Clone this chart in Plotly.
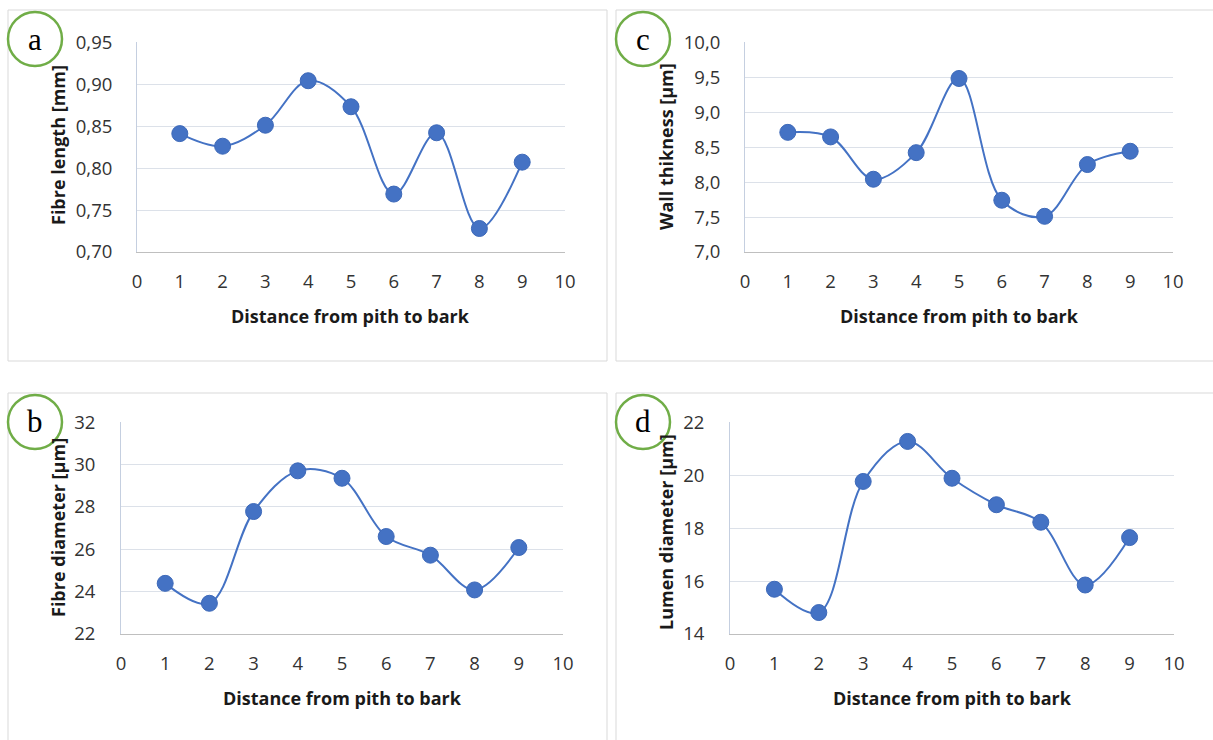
import plotly.graph_objects as go

W, H = 1213, 740

distance = [1, 2, 3, 4, 5, 6, 7, 8, 9]
fibre_length = [0.841, 0.826, 0.851, 0.904, 0.873, 0.769, 0.842, 0.728, 0.807]
wall_thickness = [8.71, 8.645, 8.04, 8.42, 9.48, 7.74, 7.51, 8.25, 8.44]
fibre_diameter = [24.39, 23.45, 27.78, 29.70, 29.35, 26.60, 25.72, 24.08, 26.08]
lumen_diameter = [15.69, 14.81, 19.76, 21.27, 19.88, 18.88, 18.22, 15.85, 17.64]

panel_letters = ["a", "c", "b", "d"]
y_titles = ["Fibre length [mm]", "Wall thikness [µm]", "Fibre diameter [µm]", "Lumen diameter [µm]"]
x_title = "Distance from pith to bark"

series = [fibre_length, wall_thickness, fibre_diameter, lumen_diameter]
y_ranges = [(0.70, 0.95), (7.0, 10.0), (22, 32), (14, 22)]
y_dticks = [0.05, 0.5, 2, 2]
y_formats = [".2f", ".1f", "d", "d"]

plot_px = [(137, 565, 42, 252), (745, 1173, 42, 252), (121, 563, 422, 634), (730, 1174, 422, 634)]
frame_px = [(8, 10, 607, 361), (616, 10, 1214, 361), (8, 393, 607, 742), (616, 393, 1214, 742)]
circle_c = [(35, 39), (643, 39), (35, 422), (643, 422)]
ytitle_pos = [(58, 145), (666, 147), (58, 528), (666, 532)]
xtitle_y = [316, 316, 698, 698]
ylab_standoff = [20, 20, 21, 21]

BLUE = "#4472C4"
fig = go.Figure()

def px_x(p):
    return p / W

def px_y(p):
    return 1 - p / H

shapes = []
annotations = []
for i in range(4):
    ax = "" if i == 0 else str(i + 1)
    x0, x1, yt, yb = plot_px[i]
    fig.add_trace(go.Scatter(
        x=distance, y=series[i], mode="lines+markers",
        line=dict(color=BLUE, width=2, shape="spline", smoothing=1.0),
        marker=dict(size=16, color=BLUE, line=dict(color="#3d69b9", width=1)),
        xaxis="x" + ax, yaxis="y" + ax, showlegend=False,
    ))
    lo, hi = y_ranges[i]
    fig.layout["xaxis" + ax] = dict(
        domain=[px_x(x0), px_x(x1)], range=[0, 10], tick0=0, dtick=1,
        showgrid=False, zeroline=False, showline=True, linecolor="#bfbfbf", linewidth=1,
        ticks="", ticklabelstandoff=13, anchor="y" + ax, automargin=False,
        tickfont=dict(family="Open Sans", size=18.5, color="#333333"), fixedrange=True,
    )
    fig.layout["yaxis" + ax] = dict(
        domain=[px_y(yb), px_y(yt)], range=[lo, hi + (hi - lo) * 0.0005], tick0=lo, dtick=y_dticks[i],
        tickformat=y_formats[i], showgrid=True, gridcolor="#dce1e9", gridwidth=1,
        zeroline=False, showline=True, linecolor="#c5cfe0", linewidth=1,
        ticks="", ticklabelstandoff=ylab_standoff[i], anchor="x" + ax, automargin=False,
        tickfont=dict(family="Open Sans", size=18.5, color="#333333"), fixedrange=True,
    )
    fx0, fy0, fx1, fy1 = frame_px[i]
    shapes.append(dict(type="rect", xref="paper", yref="paper",
                       x0=px_x(fx0), x1=px_x(fx1), y0=px_y(fy1), y1=px_y(fy0),
                       line=dict(color="#d9d9d9", width=1), layer="below"))
    cx, cy = circle_c[i]
    r = 27
    shapes.append(dict(type="circle", xref="paper", yref="paper",
                       x0=px_x(cx - r), x1=px_x(cx + r), y0=px_y(cy + r), y1=px_y(cy - r),
                       line=dict(color="#70AD47", width=2.5), fillcolor="white", layer="above"))
    annotations.append(dict(text=panel_letters[i], x=px_x(cx), y=px_y(cy), xref="paper", yref="paper",
                            showarrow=False, xanchor="center", yanchor="middle",
                            font=dict(family="Liberation Serif", size=31, color="#000000")))
    tx, ty = ytitle_pos[i]
    annotations.append(dict(text="<b>" + y_titles[i] + "</b>", x=px_x(tx), y=px_y(ty), xref="paper", yref="paper",
                            showarrow=False, xanchor="center", yanchor="middle", textangle=-90,
                            font=dict(family="Open Sans", size=18, color="#1a1a1a")))
    annotations.append(dict(text="<b>" + x_title + "</b>", x=px_x((x0 + x1) / 2), y=px_y(xtitle_y[i]),
                            xref="paper", yref="paper", showarrow=False, xanchor="center", yanchor="middle",
                            font=dict(family="Open Sans", size=18, color="#1a1a1a")))

fig.update_layout(
    width=W, height=H, margin=dict(l=0, r=0, t=0, b=0, pad=0, autoexpand=False),
    paper_bgcolor="white", plot_bgcolor="white",
    separators=",.", shapes=shapes, annotations=annotations,
)

fig.write_html("out.html", config={"displayModeBar": False})
